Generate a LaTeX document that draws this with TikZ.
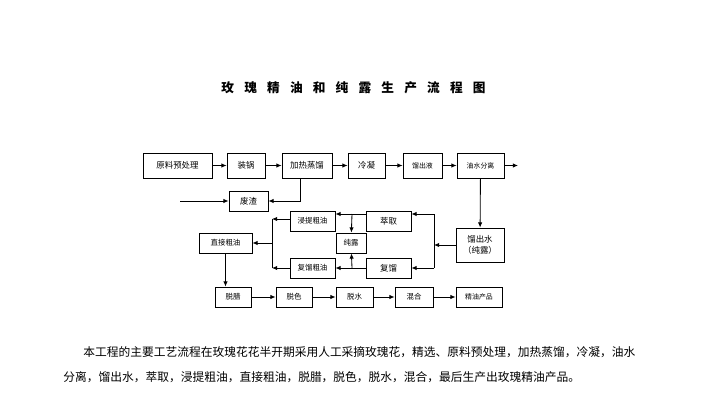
\documentclass[tikz,border=0pt]{standalone}
\usepackage{fontspec}
\setmainfont{Noto Sans CJK SC}
\usetikzlibrary{arrows.meta}

\begin{document}
\begin{tikzpicture}[x=0.025cm, y=-0.025cm, >={Latex[length=1.3mm, width=1.1mm]}, line width=0.6pt,
  box/.style={draw, rectangle, inner sep=0pt, align=center, font=\fontsize{6}{7.6}\selectfont},
  sz/.style 2 args={minimum width=#1*0.025cm, minimum height=#2*0.025cm},
  midtxt/.style={font=\fontsize{5.3}{6.5}\selectfont},
  smalltxt/.style={font=\fontsize{4.9}{5.9}\selectfont},
  bodytxt/.style={font=\fontsize{8.35}{10}\selectfont, anchor=west, inner sep=0pt}]

\useasboundingbox (0,0) rectangle (707,400);

% =============== TITLE ===============
\node[font=\fontsize{9}{10}\selectfont\bfseries] (title) at (353.5,88)
  {\spaceskip=2.55mm\relax 玫 瑰 精 油 和 纯 露 生 产 流 程 图};

% =============== TOP ROW ===============
\node[box, sz={69}{25}] (yuanliao) at (177.5,165.5) {原料预处理};
\node[box, sz={38}{25}] (zhuangguo) at (246,165.5) {装锅};
\node[box, sz={50}{25}] (jiare) at (307,165.5) {加热蒸馏};
\node[box, sz={37}{25}] (lengning) at (366.5,165.5) {冷凝};
\node[box, sz={39}{25}, smalltxt] (liuchuye) at (422.5,165.5) {馏出液};
\node[box, sz={47}{25}, smalltxt] (youshui) at (480.5,165.5) {油水分离};
\coordinate (topout) at (518,165.5);
\foreach \a/\b in {yuanliao/zhuangguo, zhuangguo/jiare, jiare/lengning,
                   lengning/liuchuye, liuchuye/youshui}{
  \draw[->] (\a) -- (\b);
}
\draw[->] (youshui) -- (topout);

% waste
\node[box, sz={39}{20}] (feizha) at (248.5,201) {废渣};
\coordinate (feiin) at (180,201);
\draw[->] (feiin) -- (feizha);
\draw[->] ([xshift=-7*0.025cm]jiare.south) |- (feizha);

% =============== MIDDLE ===============
\node[box, sz={48}{34}] (liushui) at (480,245) {馏出水\\（纯露）};
\node[box, sz={45}{20}] (cuiqu) at (388.5,221) {萃取};
\node[box, sz={45}{20}] (fuliu) at (388.5,268) {复馏};
\node[box, sz={45}{20}, midtxt] (jinti) at (312.5,221) {浸提粗油};
\node[box, sz={45}{20}, midtxt] (fuliucy) at (312.5,268) {复馏粗油};
\node[box, sz={30}{20}, midtxt] (chunlu) at (351,243) {纯露};
\node[box, sz={53}{20}, midtxt] (zhijie) at (225.5,243) {直接粗油};
\draw[->] (youshui) -- (liushui);

% right bus
\coordinate (r1) at (434,214);
\coordinate (r2) at (434,268);
\draw (r1) -- (r2);
\draw[->] (liushui.west) -- (liushui.west -| r1);
\draw[->] (r1) -- (r1 -| cuiqu.east);
\draw[->] (r2) -- (fuliu);

% extraction / redistillation
\coordinate (m1) at (352,214);
\coordinate (m2) at (352,268);
\draw[->] (r1 -| cuiqu.west) -- (r1 -| jinti.east);
\draw[->] (m1) -- (chunlu);
\draw[->] (fuliu) -- (fuliucy);
\draw[->] (m2) -- (chunlu);

% left bus
\coordinate (l1) at (272,219);
\coordinate (l2) at (272,268);
\draw (l1) -- (l2);
\draw[->] (l1 -| jinti.west) -- (l1);
\draw[->] (fuliucy) -- (l2);
\draw[->] (l1 |- zhijie) -- (zhijie);

% =============== BOTTOM ROW ===============
\node[box, sz={36}{20}, midtxt] (tuola) at (233,297) {脱腊};
\node[box, sz={36}{20}, midtxt] (tuose) at (294,297) {脱色};
\node[box, sz={37}{20}, midtxt] (tuoshui) at (354.5,297) {脱水};
\node[box, sz={38}{20}, midtxt] (hunhe) at (414,297) {混合};
\node[box, sz={46}{20}, smalltxt] (jingyou) at (479,297) {精油产品};
\draw[->] (zhijie.south) -- (zhijie.south |- tuola.north);
\foreach \a/\b in {tuola/tuose, tuose/tuoshui, tuoshui/hunhe, hunhe/jingyou}{
  \draw[->] (\a) -- (\b);
}

% =============== TEXT ===============
\node[bodytxt] (para1) at (83,352) {本工程的主要工艺流程在玫瑰花花半开期采用人工采摘玫瑰花，精选、原料预处理，加热蒸馏，冷凝，油水};
\node[bodytxt] (para2) at (63,377) {分离，馏出水，萃取，浸提粗油，直接粗油，脱腊，脱色，脱水，混合，最后生产出玫瑰精油产品。};

\end{tikzpicture}
\end{document}
